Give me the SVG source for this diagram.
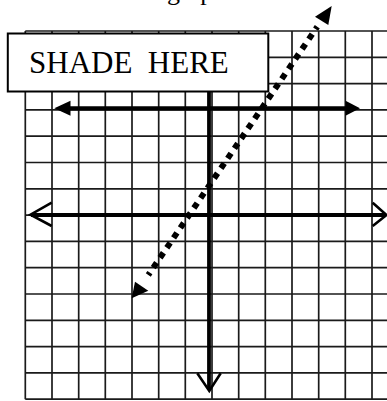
<svg xmlns="http://www.w3.org/2000/svg" width="387" height="401" viewBox="0 0 387 401">
<style>
.grid line{stroke:#1a1a1a;stroke-width:1.7}
.axis{stroke:#000;stroke-width:3.8;fill:none}
.chev{stroke:#000;stroke-width:2.6;fill:none;stroke-linejoin:miter}
.head{fill:#000}
.lbl{font-family:"Liberation Serif","Times New Roman",serif;fill:#000}
</style>
<rect width="387" height="401" fill="#fff"/>
<g id="title"><text class="lbl" x="167" y="0" font-size="26">graph</text></g>
<g id="grid" class="grid">
<line x1="25.3" y1="31" x2="25.3" y2="399.3"/><line x1="52" y1="31" x2="52" y2="399.3"/><line x1="78.7" y1="31" x2="78.7" y2="399.3"/><line x1="105.3" y1="31" x2="105.3" y2="399.3"/><line x1="132" y1="31" x2="132" y2="399.3"/><line x1="158.7" y1="31" x2="158.7" y2="399.3"/><line x1="185.3" y1="31" x2="185.3" y2="399.3"/><line x1="212" y1="31" x2="212" y2="399.3"/><line x1="238.7" y1="31" x2="238.7" y2="399.3"/><line x1="265.3" y1="31" x2="265.3" y2="399.3"/><line x1="292" y1="31" x2="292" y2="399.3"/><line x1="318.7" y1="31" x2="318.7" y2="399.3"/><line x1="345.3" y1="31" x2="345.3" y2="399.3"/><line x1="372" y1="31" x2="372" y2="399.3"/>
<line x1="25.3" y1="31" x2="387" y2="31"/><line x1="25.3" y1="57.3" x2="387" y2="57.3"/><line x1="25.3" y1="83.6" x2="387" y2="83.6"/><line x1="25.3" y1="109.9" x2="387" y2="109.9"/><line x1="25.3" y1="136.2" x2="387" y2="136.2"/><line x1="25.3" y1="162.5" x2="387" y2="162.5"/><line x1="25.3" y1="188.8" x2="387" y2="188.8"/><line x1="25.3" y1="215.1" x2="387" y2="215.1"/><line x1="25.3" y1="241.4" x2="387" y2="241.4"/><line x1="25.3" y1="267.7" x2="387" y2="267.7"/><line x1="25.3" y1="294" x2="387" y2="294"/><line x1="25.3" y1="320.3" x2="387" y2="320.3"/><line x1="25.3" y1="346.6" x2="387" y2="346.6"/><line x1="25.3" y1="372.9" x2="387" y2="372.9"/><line x1="25.3" y1="399.2" x2="387" y2="399.2"/>
</g>
<g id="connectors">
<g id="x-axis">
<line class="axis" x1="31" y1="215" x2="386" y2="215"/>
<polyline class="chev" points="51.7,202.7 30.5,214.7 51.7,226"/>
<polyline class="chev" points="372.7,202.7 386.5,215 372.7,226"/>
</g>
<g id="y-axis">
<line class="axis" x1="209" y1="92" x2="209" y2="390"/>
<polyline class="chev" points="197.3,373.3 209.3,391 220.7,373.3"/>
</g>
<g id="boundary-line">
<line x1="68" y1="108.3" x2="348" y2="108.3" stroke="#000" stroke-width="4.3"/>
<polygon class="head" points="54.3,108.3 70.5,100.8 70.5,115.8"/>
<polygon class="head" points="360,108.3 345.5,100.8 345.5,115.8"/>
</g>
<g id="dotted-line">
<line x1="317.3" y1="26.7" x2="148.3" y2="275" stroke="#000" stroke-width="6" stroke-dasharray="6 6.02" stroke-dashoffset="3"/>
<polygon class="head" points="331.7,6 315,16.7 328.3,25"/>
<polygon class="head" points="131.7,298.3 135,281.7 148.3,290.7"/>
</g>
</g>
<g id="shade-box">
<rect x="7.8" y="33.5" width="260.5" height="58" fill="#fff" stroke="#000" stroke-width="2"/>
<text class="lbl" x="29" y="73.3" font-size="31" xml:space="preserve">SHADE  HERE</text>
</g>
</svg>
